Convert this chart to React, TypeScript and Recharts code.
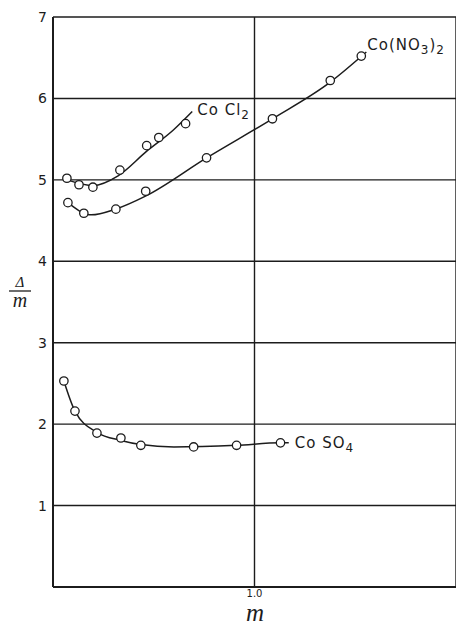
import React from 'react';
import { ComposedChart, Line, Scatter, XAxis, YAxis, CartesianGrid } from 'recharts';

// measured points (open circles)
const cocl2M = [0.069, 0.129, 0.198, 0.332, 0.465, 0.525, 0.658];
const cocl2Ratio = [5.02, 4.94, 4.91, 5.12, 5.42, 5.52, 5.69];
const conitrateM = [0.074, 0.153, 0.312, 0.46, 0.762, 1.089, 1.376, 1.53];
const conitrateRatio = [4.72, 4.59, 4.64, 4.86, 5.27, 5.75, 6.22, 6.52];
const coso4M = [0.054, 0.109, 0.218, 0.337, 0.436, 0.698, 0.911, 1.129];
const coso4Ratio = [2.53, 2.16, 1.89, 1.83, 1.74, 1.72, 1.74, 1.77];

// hand-drawn curves
const cocl2CurveM = [0.07, 0.2, 0.323, 0.464, 0.596, 0.691];
const cocl2CurveRatio = [5.0, 4.93, 5.05, 5.35, 5.61, 5.84];
const conitrateCurveM = [0.074, 0.19, 0.31, 0.459, 0.762, 1.089, 1.376, 1.555];
const conitrateCurveRatio = [4.72, 4.57, 4.64, 4.8, 5.27, 5.75, 6.2, 6.57];
const coso4CurveM = [0.054, 0.109, 0.218, 0.337, 0.436, 0.6, 0.911, 1.129, 1.17];
const coso4CurveRatio = [2.53, 2.16, 1.9, 1.8, 1.75, 1.72, 1.74, 1.77, 1.77];

const yTicks = [1, 2, 3, 4, 5, 6, 7];
const xTicks = [1.0];
const xTickLabels = ['1.0'];

const zip = (xs: number[], ys: number[]) => xs.map((x, i) => ({ x, y: ys[i] }));

const INK = '#1c1c1c';
const SANS = '"DejaVu Sans", sans-serif';
const SERIF = '"Liberation Serif", serif';

const Circle = (props: any) => (
  <circle cx={props.cx} cy={props.cy} r={4.2} fill="#fff" stroke={INK} strokeWidth={1.3} />
);

const endLabel = (len: number, parts: [string, boolean][], dx: number, dy: number) => (p: any) => {
  if (p.index !== len - 1) return <g key={p.index} />;
  return (
    <text key={p.index} x={p.x + dx} y={p.y + dy} fontFamily={SANS} fontSize={15} fill={INK} letterSpacing={1}>
      {parts.map(([s, sub], i) => (
        <tspan key={i} fontSize={sub ? 12 : 15} dy={sub ? 4 : i > 0 && parts[i - 1][1] ? -4 : 0}>
          {s}
        </tspan>
      ))}
    </text>
  );
};

const YTick = ({ x, y, payload }: any) => (
  <text x={x} y={y + 5} textAnchor="end" fontFamily={SANS} fontSize={14} fill={INK}>
    {payload.value}
  </text>
);

const XTick = ({ x, y, payload, index }: any) => (
  <text x={x} y={y + 8} textAnchor="middle" fontFamily={SANS} fontSize={10} fill={INK}>
    {xTickLabels[index] ?? payload.value}
  </text>
);

const YLabel = ({ viewBox }: any) => {
  const cx = viewBox.x + 20;
  const by = viewBox.y + 274;
  return (
    <g>
      <text x={cx} y={by - 4} textAnchor="middle" fontFamily={SERIF} fontStyle="italic" fontSize={15} fill={INK}>
        Δ
      </text>
      <line x1={cx - 11} x2={cx + 11} y1={by} y2={by} stroke={INK} strokeWidth={1.3} />
      <text x={cx} y={by + 16} textAnchor="middle" fontFamily={SERIF} fontStyle="italic" fontSize={20} fill={INK}>
        m
      </text>
    </g>
  );
};

const XLabel = ({ viewBox }: any) => (
  <text x={viewBox.x + 202} y={viewBox.y + 34} textAnchor="middle" fontFamily={SERIF} fontStyle="italic" fontSize={25} fill={INK}>
    m
  </text>
);

export default function App() {
  return (
    <div style={{ position: 'absolute', left: 0, top: 0, background: '#fff' }}>
      <ComposedChart width={456} height={625} margin={{ top: 17, right: 0, bottom: 0, left: 0 }}>
        <CartesianGrid stroke={INK} strokeWidth={1.4} />
        <XAxis
          type="number"
          dataKey="x"
          domain={[0, 2]}
          ticks={xTicks}
          height={38}
          tickLine={false}
          tickSize={0}
          tick={<XTick />}
          axisLine={{ stroke: INK, strokeWidth: 2 }}
          label={<XLabel />}
        />
        <YAxis
          type="number"
          dataKey="y"
          domain={[0, 7]}
          ticks={yTicks}
          width={53}
          tickLine={false}
          tickSize={0}
          tickMargin={6}
          tick={<YTick />}
          axisLine={{ stroke: INK, strokeWidth: 2 }}
          label={<YLabel />}
        />
        <Line
          data={zip(cocl2CurveM, cocl2CurveRatio)}
          dataKey="y"
          type="monotone"
          stroke={INK}
          strokeWidth={1.5}
          dot={false}
          activeDot={false}
          isAnimationActive={false}
          label={endLabel(cocl2CurveM.length, [['Co Cl', false], ['2', true]], 5, 4)}
        />
        <Line
          data={zip(conitrateCurveM, conitrateCurveRatio)}
          dataKey="y"
          type="monotone"
          stroke={INK}
          strokeWidth={1.5}
          dot={false}
          activeDot={false}
          isAnimationActive={false}
          label={endLabel(conitrateCurveM.length, [['Co(NO', false], ['3', true], [')', false], ['2', true]], 1, -2)}
        />
        <Line
          data={zip(coso4CurveM, coso4CurveRatio)}
          dataKey="y"
          type="monotone"
          stroke={INK}
          strokeWidth={1.5}
          dot={false}
          activeDot={false}
          isAnimationActive={false}
          label={endLabel(coso4CurveM.length, [['Co SO', false], ['4', true]], 6, 5)}
        />
        <Scatter data={zip(cocl2M, cocl2Ratio)} dataKey="y" shape={<Circle />} isAnimationActive={false} />
        <Scatter data={zip(conitrateM, conitrateRatio)} dataKey="y" shape={<Circle />} isAnimationActive={false} />
        <Scatter data={zip(coso4M, coso4Ratio)} dataKey="y" shape={<Circle />} isAnimationActive={false} />
      </ComposedChart>
    </div>
  );
}
